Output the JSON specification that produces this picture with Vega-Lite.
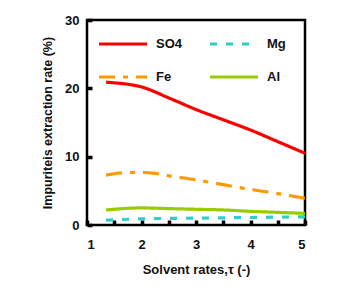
{
  "$schema": "https://vega.github.io/schema/vega-lite/v6.json",
  "width": 218,
  "height": 205,
  "autosize": "none",
  "padding": {"left": 87, "top": 20, "right": 56, "bottom": 78},
  "background": "white",
  "config": {
    "font": "Liberation Sans",
    "view": {"stroke": "black", "strokeWidth": 2.5},
    "axis": {"grid": false, "domain": false, "ticks": true, "labelFont": "Liberation Sans", "titleFont": "Liberation Sans", "labelFontWeight": "bold", "titleFontWeight": "bold", "labelColor": "#111", "titleColor": "#111"}
  },
  "data": {"values": [
    {"tau": 1.35, "rate": 20.9, "s": "SO4"},
    {"tau": 1.5, "rate": 20.8, "s": "SO4"},
    {"tau": 1.75, "rate": 20.6, "s": "SO4"},
    {"tau": 2.0, "rate": 20.2, "s": "SO4"},
    {"tau": 2.5, "rate": 18.6, "s": "SO4"},
    {"tau": 3.0, "rate": 16.9, "s": "SO4"},
    {"tau": 3.5, "rate": 15.4, "s": "SO4"},
    {"tau": 4.0, "rate": 13.9, "s": "SO4"},
    {"tau": 4.5, "rate": 12.2, "s": "SO4"},
    {"tau": 5.0, "rate": 10.5, "s": "SO4"},
    {"tau": 1.35, "rate": 0.7, "s": "Mg"},
    {"tau": 2.0, "rate": 0.9, "s": "Mg"},
    {"tau": 3.0, "rate": 1.0, "s": "Mg"},
    {"tau": 4.0, "rate": 1.1, "s": "Mg"},
    {"tau": 5.0, "rate": 1.2, "s": "Mg"},
    {"tau": 1.35, "rate": 7.3, "s": "Fe"},
    {"tau": 1.5, "rate": 7.5, "s": "Fe"},
    {"tau": 1.9, "rate": 7.7, "s": "Fe"},
    {"tau": 2.2, "rate": 7.6, "s": "Fe"},
    {"tau": 2.5, "rate": 7.2, "s": "Fe"},
    {"tau": 3.0, "rate": 6.6, "s": "Fe"},
    {"tau": 3.5, "rate": 5.9, "s": "Fe"},
    {"tau": 4.0, "rate": 5.2, "s": "Fe"},
    {"tau": 4.5, "rate": 4.6, "s": "Fe"},
    {"tau": 5.0, "rate": 3.9, "s": "Fe"},
    {"tau": 1.35, "rate": 2.2, "s": "Al"},
    {"tau": 2.0, "rate": 2.5, "s": "Al"},
    {"tau": 2.5, "rate": 2.4, "s": "Al"},
    {"tau": 3.0, "rate": 2.3, "s": "Al"},
    {"tau": 3.5, "rate": 2.2, "s": "Al"},
    {"tau": 4.0, "rate": 2.0, "s": "Al"},
    {"tau": 4.5, "rate": 1.85, "s": "Al"},
    {"tau": 5.0, "rate": 1.7, "s": "Al"}
  ]},
  "mark": {"type": "line", "strokeWidth": 3.2, "interpolate": "monotone"},
  "encoding": {
    "x": {"field": "tau", "type": "quantitative", "scale": {"domain": [1, 5], "nice": false},
      "axis": {"title": "Solvent rates,τ (-)", "values": [1, 1.5, 2, 2.5, 3, 3.5, 4, 4.5, 5], "labelExpr": "datum.value % 1 == 0 ? format(datum.value, 'd') : ''", "tickSize": -5, "tickWidth": 3.5, "tickColor": "black", "labelPadding": 18, "labelFontSize": 13, "titleFontSize": 13, "titlePadding": 12}},
    "y": {"field": "rate", "type": "quantitative", "scale": {"domain": [0, 30], "nice": false},
      "axis": {"title": "Impuriteis extraction rate (%)", "values": [0, 10, 20, 30], "tickSize": -5, "tickWidth": 3.5, "tickColor": "black", "labelPadding": 13, "labelFontSize": 13, "titleFontSize": 12.5, "titlePadding": 10}},
    "color": {"field": "s", "type": "nominal", "sort": ["SO4", "Fe", "Mg", "Al"],
      "scale": {"domain": ["SO4", "Fe", "Mg", "Al"], "range": ["#ff0000", "#ff9900", "#33cccc", "#99cc00"]},
      "legend": {"title": null, "orient": "none", "legendX": 10, "legendY": -2, "columns": 2, "columnPadding": 20, "rowPadding": -2, "symbolType": "stroke", "symbolSize": 2304, "symbolStrokeWidth": 3.2, "labelFontSize": 13, "labelFontWeight": "bold", "labelColor": "#111", "labelOffset": 7}},
    "strokeDash": {"field": "s", "type": "nominal", "sort": ["SO4", "Fe", "Mg", "Al"],
      "scale": {"domain": ["SO4", "Fe", "Mg", "Al"], "range": [[1, 0], [16, 8, 5, 8], [7, 9], [1, 0]]},
      "legend": null}
  }
}
